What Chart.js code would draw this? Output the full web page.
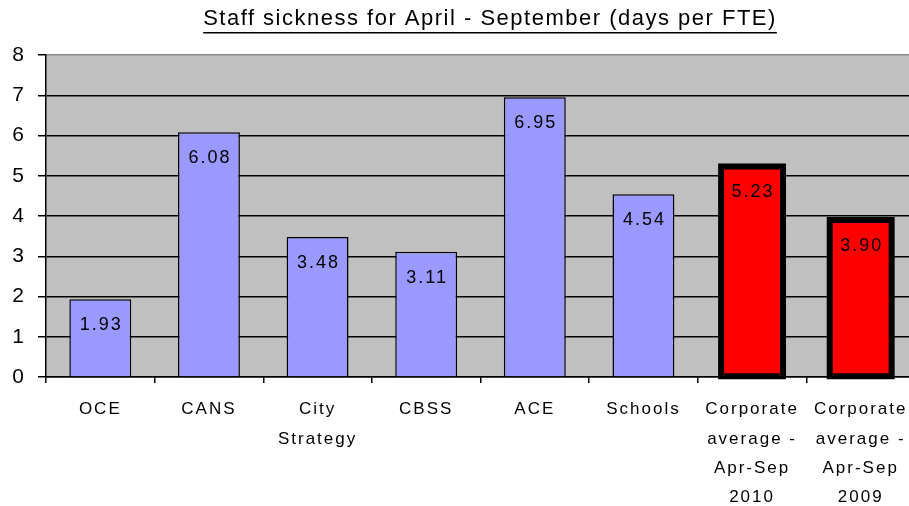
<!DOCTYPE html>
<html>
<head>
<meta charset="utf-8">
<script src="https://cdn.jsdelivr.net/npm/chart.js@4.4.0/dist/chart.umd.min.js"></script>
<style>
html,body{margin:0;padding:0;background:#fff;overflow:hidden;}
#wrap{width:909px;height:506px;position:relative;}
</style>
</head>
<body>
<div id="wrap"><canvas id="c" width="909" height="506"></canvas></div>
<script>
const titleText = 'Staff sickness for April - September (days per FTE)';
const categories = [
  ['OCE'],
  ['CANS'],
  ['City', 'Strategy'],
  ['CBSS'],
  ['ACE'],
  ['Schools'],
  ['Corporate', 'average -', 'Apr-Sep', '2010'],
  ['Corporate', 'average -', 'Apr-Sep', '2009']
];
const sicknessDays = [1.93, 6.08, 3.48, 3.11, 6.95, 4.54, 5.23, 3.90];
const isCorporate = [false, false, false, false, false, false, true, true];
const yTicks = [0, 1, 2, 3, 4, 5, 6, 7, 8];

const FONT = '"Liberation Sans", Arial, sans-serif';

const spacingPlugin = {
  id: 'spacing',
  beforeLayout(chart) { chart.ctx.letterSpacing = '2px'; },
  afterLayout(chart) {
    // let the plot run past the right edge of the picture, as in the reference
    const ca = chart.chartArea;
    const xs = chart.scales.x;
    const newRight = 915;
    xs.right = newRight; xs.width = newRight - xs.left;
    ca.right = newRight; ca.width = newRight - ca.left;
    chart.scales.y.configure && chart.scales.y.configure();
    xs.configure();
  },
  beforeDraw(chart) {
    const {ctx, chartArea} = chart;
    ctx.letterSpacing = '2px';
    ctx.save();
    ctx.fillStyle = '#C0C0C0';
    ctx.fillRect(chartArea.left, chartArea.top, chartArea.right - chartArea.left, chartArea.bottom - chartArea.top);
    ctx.restore();
  },
  afterDatasetsDraw(chart) {
    const ctx = chart.ctx;
    const meta = chart.getDatasetMeta(0);
    ctx.save();
    meta.data.forEach((bar, i) => {
      if (isCorporate[i]) {
        ctx.lineWidth = 6;
        ctx.strokeStyle = '#000';
        const w = bar.width;
        ctx.strokeRect(bar.x - w / 2, bar.y, w, bar.base - bar.y);
      }
    });
    ctx.font = '18px ' + FONT;
    ctx.letterSpacing = '2px';
    ctx.fillStyle = '#000';
    ctx.textAlign = 'center';
    ctx.textBaseline = 'middle';
    meta.data.forEach((bar, i) => {
      ctx.fillText(sicknessDays[i].toFixed(2), bar.x + 1, bar.y + 26);
    });
    ctx.restore();
  },
  afterDraw(chart) {
    const ctx = chart.ctx;
    ctx.save();
    ctx.font = '22px ' + FONT;
    ctx.letterSpacing = '1.5px';
    ctx.fillStyle = '#000';
    ctx.textAlign = 'center';
    ctx.textBaseline = 'middle';
    const cx = 490, cy = 19;
    ctx.fillText(titleText, cx, cy);
    const w = ctx.measureText(titleText).width;
    ctx.fillRect(cx - w / 2, cy + 13, w, 1.5);
    ctx.restore();
  }
};

new Chart(document.getElementById('c'), {
  type: 'bar',
  data: {
    labels: categories,
    datasets: [{
      data: sicknessDays,
      backgroundColor: isCorporate.map(c => c ? '#FF0000' : '#9999FF'),
      borderColor: '#000',
      borderWidth: isCorporate.map(c => c ? 0 : 1.5),
      barPercentage: 0.57,
      categoryPercentage: 1
    }]
  },
  options: {
    responsive: false,
    animation: false,
    devicePixelRatio: 1,
    layout: { padding: { top: 55, right: 0, left: 0, bottom: 0 } },
    plugins: { legend: { display: false }, tooltip: { enabled: false }, title: { display: false } },
    scales: {
      x: {
        grid: { offset: true, drawOnChartArea: false, drawTicks: true, tickLength: 6, color: '#000', lineWidth: 1.5 },
        border: { color: '#000', width: 1.5 },
        ticks: { color: '#000', font: { family: FONT, size: 17, lineHeight: 1.72 }, padding: 12, maxRotation: 0, autoSkip: false },
        afterFit(s) { s.height = 129; }
      },
      y: {
        min: 0, max: 8,
        afterBuildTicks(s) { s.ticks = yTicks.map(v => ({ value: v })); },
        grid: {
          color: ctx => (ctx.tick && ctx.tick.value === 8) ? '#888' : '#000',
          tickColor: '#000',
          lineWidth: 1.5,
          tickLength: 8
        },
        border: { color: '#000', width: 1.5 },
        ticks: { color: '#000', font: { family: FONT, size: 21 }, padding: 12 },
        afterFit(s) { s.width = 46; }
      }
    }
  },
  plugins: [spacingPlugin]
});
</script>
</body>
</html>
